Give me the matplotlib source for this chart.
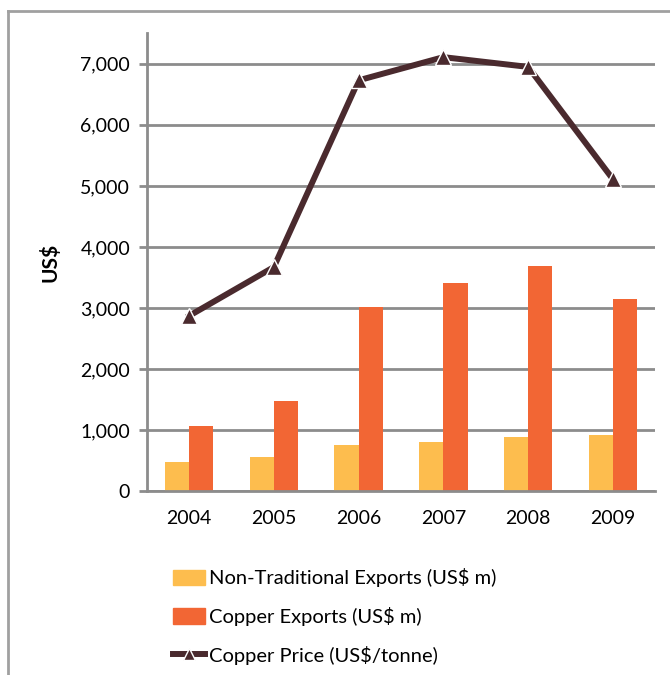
import numpy as np
import matplotlib.pyplot as plt
from matplotlib.patches import Patch
from matplotlib.lines import Line2D

years = ["2004", "2005", "2006", "2007", "2008", "2009"]
non_trad = [470, 550, 760, 800, 890, 910]
copper_exports = [1070, 1480, 3010, 3410, 3680, 3140]
copper_price = [2870, 3670, 6730, 7110, 6950, 5110]

plt.rcParams['font.family'] = ['Lato', 'DejaVu Sans']

yellow = '#FDBD4E'
orange = '#F26634'
brown = '#4A2A2E'
grey = '#8C8C8C'

fig = plt.figure(figsize=(6.7, 6.75), dpi=100)
ax = fig.add_axes([0.219, 0.2726, 0.759, 0.678])

x = np.arange(len(years))
w = 0.286
ax.bar(x - w / 2, non_trad, width=w, color=yellow, zorder=2)
ax.bar(x + w / 2, copper_exports, width=w, color=orange, zorder=2)
ax.plot(x, copper_price, color=brown, lw=4.3, marker='^', ms=11,
        mfc=brown, mec='white', mew=1, zorder=3)

ax.set_xlim(-0.5, len(years) - 0.5)
ax.set_ylim(0, 7500)
ax.set_yticks(range(0, 8000, 1000))
ax.set_yticklabels([f"{v:,}" for v in range(0, 8000, 1000)])
ax.set_xticks(x)
ax.set_xticklabels(years)
ax.grid(axis='y', color=grey, lw=2, zorder=1)
ax.tick_params(axis='y', length=6, width=2, color=grey, labelsize=14, pad=6)
ax.tick_params(axis='x', length=0, labelsize=14, pad=14)
for s in ['top', 'right']:
    ax.spines[s].set_visible(False)
for s in ['left', 'bottom']:
    ax.spines[s].set_color(grey)
    ax.spines[s].set_linewidth(2)
ax.set_ylabel("US$", fontsize=15, fontweight='bold', labelpad=14)

handles = [
    Patch(color=yellow),
    Patch(color=orange),
    Line2D([0], [0], color=brown, lw=4.3, marker='^', ms=9, mfc=brown, mec='white', mew=1),
]
labels = ["Non-Traditional Exports (US$ m)", "Copper Exports (US$ m)", "Copper Price (US$/tonne)"]
fig.legend(handles, labels, loc='upper left', bbox_to_anchor=(0.258, 0.158),
           frameon=False, fontsize=14.5, handlelength=1.6, handleheight=0.8,
           handletextpad=0.2, labelspacing=0.98, borderpad=0, borderaxespad=0)

# outer chart frame
fig.add_artist(Line2D([8 / 670, 8 / 670], [0, 1 - 11 / 675], color='#A0A0A0', lw=2))
fig.add_artist(Line2D([8 / 670, 1], [1 - 11 / 675, 1 - 11 / 675], color='#A0A0A0', lw=2))

fig.savefig("out.png", dpi=100)
